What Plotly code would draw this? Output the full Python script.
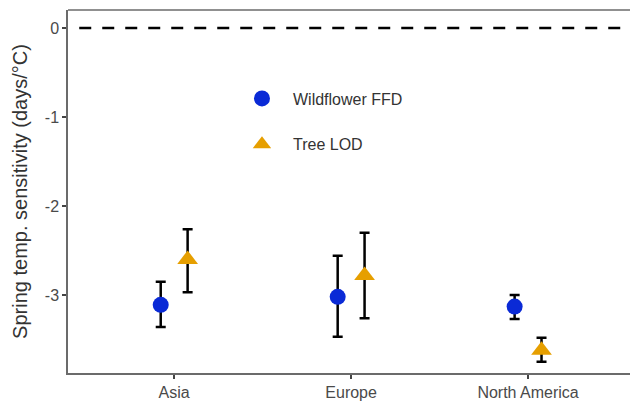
import plotly.graph_objects as go

regions = ["Asia", "Europe", "North America"]
ffd_est = [-3.11, -3.02, -3.13]
ffd_low = [-3.36, -3.47, -3.27]
ffd_high = [-2.85, -2.56, -3.00]
lod_est = [-2.60, -2.78, -3.62]
lod_low = [-2.97, -3.26, -3.75]
lod_high = [-2.26, -2.30, -3.48]
dodge = 0.076

blue = "#0a2ad6"
gold = "#E69F00"
axis_col = "#6b6b6b"
text_col = "#4a4a4a"

xi = list(range(len(regions)))

fig = go.Figure()

def add_series(est, lo, hi, offset, color, symbol, size, name):
    fig.add_trace(go.Scatter(
        x=[i + offset for i in xi], y=est, mode="markers",
        marker=dict(color=color, symbol=symbol, size=size, line=dict(width=0)),
        error_y=dict(type="data", symmetric=False,
                     array=[h - e for h, e in zip(hi, est)],
                     arrayminus=[e - l for e, l in zip(est, lo)],
                     color="black", thickness=2.5, width=5),
        showlegend=False, name=name, hoverinfo="skip"))
    fig.add_trace(go.Scatter(
        x=[None], y=[None], mode="markers", name=name, legendgroup=name,
        marker=dict(color=color, symbol=symbol, size=16, line=dict(width=0))))

add_series(ffd_est, ffd_low, ffd_high, -dodge, blue, "circle", 16, "Wildflower FFD")
add_series(lod_est, lod_low, lod_high, dodge, gold, "triangle-up", 18, "Tree LOD")

fig.add_shape(type="line", xref="paper", yref="y", x0=0.02, x1=1, y0=0, y1=0,
              line=dict(color="black", width=2.5, dash="12px,11px"))
# top frame line
fig.add_shape(type="line", xref="paper", yref="paper", x0=0, x1=1, y0=1, y1=1,
              line=dict(color=axis_col, width=1.5))

fig.update_layout(
    width=630, height=404,
    margin=dict(l=68, r=0, t=10, b=31),
    plot_bgcolor="white", paper_bgcolor="white",
    font=dict(family="Liberation Sans, Arial, sans-serif", size=16, color=text_col),
    legend=dict(x=0.29, y=0.803, xanchor="left", yanchor="top",
                bgcolor="rgba(0,0,0,0)", font=dict(size=16, color="#333333"),
                tracegroupgap=22, itemclick=False, itemwidth=52),
    xaxis=dict(range=[-0.6, 2.576], tickmode="array", tickvals=xi, ticktext=regions,
               showgrid=False, zeroline=False, showline=True, linecolor=axis_col,
               linewidth=1.5, mirror=False, ticks="outside", ticklen=4, tickwidth=1.5,
               tickcolor="#444444", tickfont=dict(size=16, color=text_col)),
    yaxis=dict(range=[-3.876, 0.202], tickvals=[0, -1, -2, -3],
               ticktext=["0", "-1", "-2", "-3"],
               showgrid=False, zeroline=False, showline=True, linecolor=axis_col,
               linewidth=1.5, ticks="outside", ticklen=4, tickwidth=1.5,
               tickcolor="#444444", tickfont=dict(size=16, color=text_col),
               title=dict(text="Spring temp. sensitivity (days/°C)",
                          font=dict(size=20, color="#333333"), standoff=12)),
)

# remove the default 8px page margin so the 630x404 figure fills the window
fig.write_html("out.html", config={"displayModeBar": False},
               post_script="document.body.style.margin='0px';"
                           "document.body.style.overflow='hidden';")
